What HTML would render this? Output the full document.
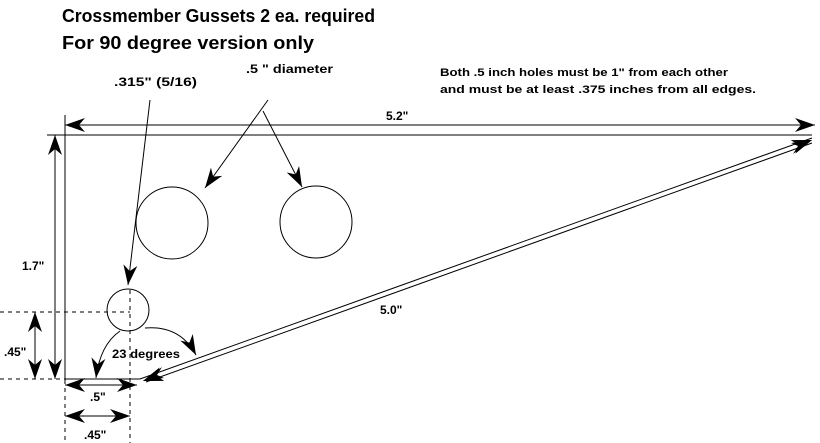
<!DOCTYPE html>
<html><head><meta charset="utf-8"><style>body{margin:0;background:#fff}svg{display:block}text{font-family:"Liberation Sans",sans-serif;font-weight:bold;fill:#000}</style></head><body>
<svg width="820" height="443" viewBox="0 0 820 443" xmlns="http://www.w3.org/2000/svg">
<defs>
<marker id="a" viewBox="0 0 20 14" refX="20" refY="7" markerWidth="20" markerHeight="14" markerUnits="userSpaceOnUse" orient="auto-start-reverse"><path d="M0,0 L20,7 L0,14 L6,7 Z" fill="#000"/></marker>
</defs>
<text x="62" y="22" font-size="18" textLength="313" lengthAdjust="spacingAndGlyphs">Crossmember Gussets 2 ea. required</text>
<text x="62" y="49" font-size="18" textLength="252" lengthAdjust="spacingAndGlyphs">For 90 degree version only</text>
<text x="246" y="73" font-size="12" textLength="87" lengthAdjust="spacingAndGlyphs">.5 " diameter</text>
<text x="114" y="86" font-size="12" textLength="83" lengthAdjust="spacingAndGlyphs">.315" (5/16)</text>
<text x="440" y="76" font-size="11" textLength="288" lengthAdjust="spacingAndGlyphs">Both .5 inch holes must be 1" from each other</text>
<text x="440" y="93" font-size="11" textLength="316" lengthAdjust="spacingAndGlyphs">and must be at least .375 inches from all edges.</text>
<text x="386" y="120" font-size="12">5.2"</text>
<text x="22" y="270" font-size="12">1.7"</text>
<text x="380" y="314" font-size="12">5.0"</text>
<text x="4" y="356" font-size="12">.45"</text>
<text x="112" y="358" font-size="12" textLength="68" lengthAdjust="spacingAndGlyphs">23 degrees</text>
<text x="90" y="401" font-size="12">.5"</text>
<text x="84" y="439" font-size="12">.45"</text>
<g stroke="#000" stroke-width="1" fill="none">
<line x1="47" y1="135" x2="812" y2="135"/>
<line x1="65" y1="115" x2="65" y2="380"/>
<line x1="65" y1="379" x2="140" y2="379"/>
<line x1="140" y1="379" x2="812" y2="138"/>
<line x1="146" y1="382" x2="812" y2="143"/>
<line x1="143" y1="381" x2="812" y2="140" stroke="none" marker-start="url(#a)" marker-end="url(#a)"/>
<path d="M143 381 L812 140" stroke="none" marker-start="url(#a)" marker-end="url(#a)"/>
<line x1="65" y1="125" x2="815" y2="125" marker-start="url(#a)" marker-end="url(#a)"/>
<line x1="55" y1="135" x2="55" y2="379" marker-start="url(#a)" marker-end="url(#a)"/>
<circle cx="172" cy="223" r="36"/>
<circle cx="316" cy="222" r="36"/>
<circle cx="128" cy="310" r="21"/>
<g stroke-dasharray="4,4">
<line x1="0" y1="312" x2="130" y2="312"/>
<line x1="0" y1="379" x2="65" y2="379"/>
<line x1="130" y1="290" x2="130" y2="443"/>
<line x1="65" y1="380" x2="65" y2="443"/>
</g>
<line x1="35" y1="312" x2="35" y2="379" marker-start="url(#a)" marker-end="url(#a)"/>
<line x1="65" y1="385" x2="137" y2="385" marker-start="url(#a)" marker-end="url(#a)"/>
<line x1="65" y1="416" x2="130" y2="416" marker-start="url(#a)" marker-end="url(#a)"/>
<line x1="150" y1="100" x2="128" y2="285" marker-end="url(#a)"/>
<line x1="268" y1="100" x2="205" y2="188" marker-end="url(#a)"/>
<line x1="263" y1="111" x2="302" y2="187" marker-end="url(#a)"/>
<path d="M120 331 Q100 345 96 378" marker-end="url(#a)"/>
<path d="M145 328 Q180 325 196 355" marker-end="url(#a)"/>
</g>
<g fill="#000">
<path d="M143 381 L162 367 L157 375 L164 378 Z"/>
<path d="M812 140 L793 154 L798 146 L791 143 Z"/>
</g>
</svg>
</body></html>
